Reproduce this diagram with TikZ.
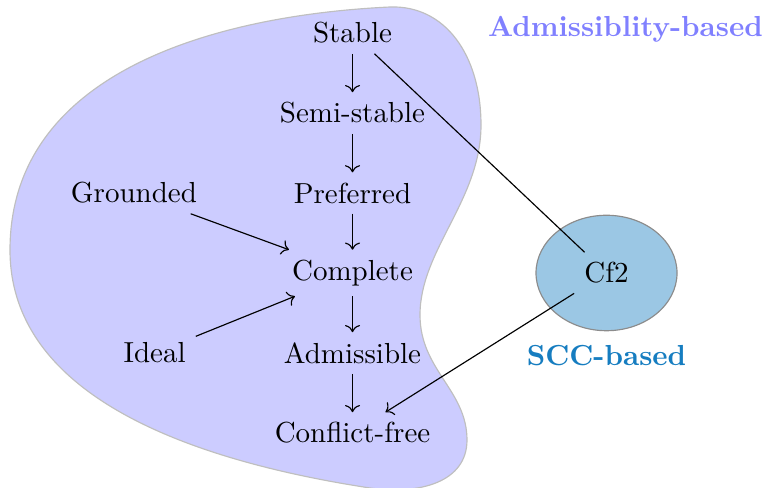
\documentclass[tikz,border=0pt]{standalone}
\usepackage{tikz}
\usetikzlibrary{arrows.meta,arrows}
\usetikzlibrary{shapes.geometric,backgrounds}

\definecolor{sccfill}{RGB}{155,199,228}
\definecolor{scctext}{RGB}{22,125,192}

\begin{document}
\begin{tikzpicture}[
    x=0.345pt, y=-0.345pt,
    ->,
    node distance=0.97cm,
    semantics node/.style={inner sep=3.33pt},
    family label/.style={font=\bfseries},
    region/.style={-,draw=black!25,fill=blue!20},
    scc region/.style={ellipse,draw=black!45,fill=sccfill,minimum width=1.71cm,minimum height=1.4cm}]

  \useasboundingbox (0,0) rectangle (765,488);

  \node[semantics node] (Stable) at (352.5,33) {Stable};
  \node[semantics node] (SemiStable) [below of=Stable] {Semi-stable};
  \node[semantics node] (Preferred) [below of=SemiStable] {Preferred};
  \node[semantics node] (Complete) [below of=Preferred] {Complete};
  \node[semantics node] (Admissible) [below of=Complete] {Admissible};
  \node[semantics node] (ConflictFree) [below of=Admissible] {Conflict-free};
  \node[semantics node] (Grounded) [left of=Preferred, node distance=2.65cm] {Grounded};
  \node[semantics node] (Ideal) [left of=Admissible, node distance=2.4cm] {Ideal};
  \node[semantics node] (Cf2) [right of=Complete, node distance=3.08cm] {Cf2};

  \node[family label, text=blue!50] (AdmLabel) [right of=Stable, node distance=3.31cm, yshift=1.4pt] {Admissiblity-based};
  \node[family label, text=scctext] (SCCLabel) [below of=Cf2, node distance=1cm] {SCC-based};

  \begin{pgfonlayer}{background}
    \draw[region] (10,250) .. controls (10,70) and (220,15) .. (390,7)
      .. controls (445,5) and (481,55) .. (481,125)
      .. controls (481,200) and (420,250) .. (420,315)
      .. controls (420,370) and (467,390) .. (467,440)
      .. controls (467,482) and (420,495) .. (370,488)
      .. controls (200,462) and (10,400) .. cycle;
    \node[scc region] (Cf2Region) at (Cf2) {};
  \end{pgfonlayer}

  \path
    (Stable) edge (SemiStable)
             edge[-] (Cf2)
    (SemiStable) edge (Preferred)
    (Preferred) edge (Complete)
    (Complete) edge (Admissible)
    (Admissible) edge (ConflictFree)
    (Grounded) edge (Complete)
    (Ideal) edge (Complete)
    (Cf2) edge (ConflictFree);

\end{tikzpicture}
\end{document}
